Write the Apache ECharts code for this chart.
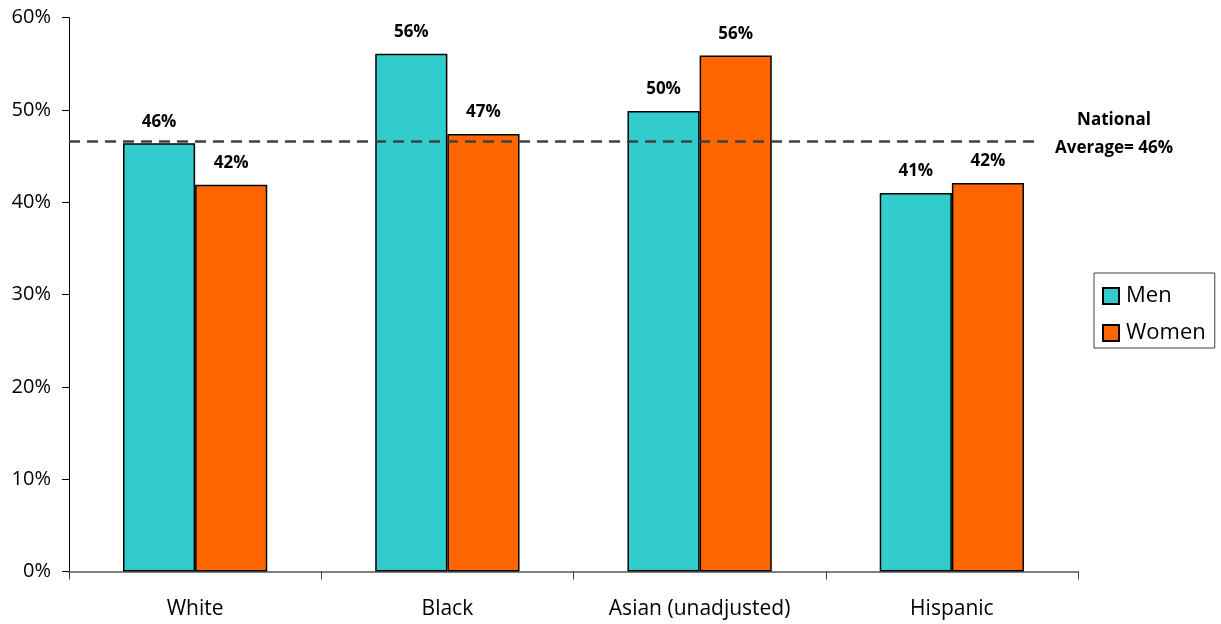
<!DOCTYPE html>
<html>
<head>
<meta charset="utf-8">
<script src="https://cdn.jsdelivr.net/npm/echarts@6/dist/echarts.min.js"></script>
<style>html,body{margin:0;padding:0;background:#fff;}#c{width:1221px;height:624px;}</style>
</head>
<body>
<div id="c"></div>
<script>
const categories = ['White', 'Black', 'Asian (unadjusted)', 'Hispanic'];
const menValues = [46.4, 56.1, 49.9, 41.0];
const womenValues = [41.9, 47.4, 55.9, 42.1];
const menLabels = ['46%', '56%', '50%', '41%'];
const womenLabels = ['42%', '47%', '56%', '42%'];
const nationalAverage = 46.6;
const nationalAverageLabel = 'National\nAverage= 46%';
const yTicks = [0, 10, 20, 30, 40, 50, 60];

const FONT = '"Open Sans", sans-serif';
const chart = echarts.init(document.getElementById('c'), null, {renderer: 'canvas'});
const labelStyle = (labels) => ({
  show: true, position: 'top', distance: 13,
  fontFamily: FONT, fontWeight: 'bold', fontSize: 17, color: '#000',
  formatter: p => labels[p.dataIndex]
});
chart.setOption({
  animation: false,
  textStyle: {fontFamily: FONT},
  grid: {left: 69, right: 143, top: 17.7, bottom: 52.5, containLabel: false},
  legend: {
    orient: 'vertical', left: 1094, top: 273,
    padding: [10, 9, 2, 8],
    itemGap: 11, itemWidth: 16, itemHeight: 16,
    icon: 'rect',
    borderColor: '#404040', borderWidth: 1,
    textStyle: {fontFamily: FONT, fontSize: 22, lineHeight: 26, color: '#000', padding: [0, 0, 0, 2]},
    data: ['Men', 'Women']
  },
  xAxis: {
    type: 'category', data: categories,
    axisLine: {lineStyle: {color: '#808080', width: 2}},
    axisTick: {show: true, length: 8, lineStyle: {color: '#404040', width: 1}},
    axisLabel: {fontFamily: FONT, fontSize: 21, color: '#000', margin: 27}
  },
  yAxis: {
    type: 'value', min: yTicks[0], max: yTicks[yTicks.length - 1], interval: 10,
    axisLine: {show: true, lineStyle: {color: '#000', width: 1}},
    axisTick: {show: true, length: 7, lineStyle: {color: '#000', width: 1}},
    splitLine: {show: false},
    axisLabel: {fontFamily: FONT, fontSize: 20, color: '#000', margin: 18, formatter: v => v + '%'}
  },
  series: [
    {
      name: 'Men', type: 'bar', data: menValues,
      barWidth: '28.6%', barGap: '0%',
      itemStyle: {color: '#33CCCC', borderColor: '#000', borderWidth: 1.5},
      label: labelStyle(menLabels)
    },
    {
      name: 'Women', type: 'bar', data: womenValues,
      barWidth: '28.6%', barGap: '0%',
      itemStyle: {color: '#FF6600', borderColor: '#000', borderWidth: 1.5},
      label: labelStyle(womenLabels),
      markLine: {
        silent: true, symbol: ['none', 'none'], z: 10,
        lineStyle: {type: [11, 7], color: '#404040', width: 2.5},
        label: {
          show: true, position: 'end', distance: 77, align: 'center',
          offset: [0, -7], lineHeight: 28,
          fontFamily: FONT, fontWeight: 'bold', fontSize: 17, color: '#000',
          formatter: nationalAverageLabel
        },
        data: [[{yAxis: nationalAverage, x: 69}, {yAxis: nationalAverage, x: 1037}]]
      }
    }
  ]
});
</script>
</body>
</html>
